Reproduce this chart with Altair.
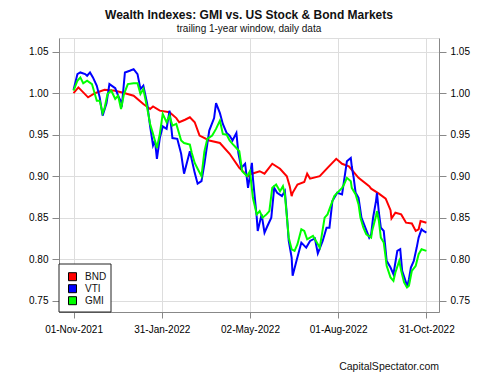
import altair as alt
import pandas as pd

series_names = ["BND", "VTI", "GMI"]
series_colors = ["#ff0000", "#0000ff", "#00ff00"]

bnd_dates = ["2021-11-01", "2021-11-06", "2021-11-16", "2021-11-23", "2021-12-03", "2021-12-14",
             "2021-12-24", "2022-01-02", "2022-01-12", "2022-01-19", "2022-01-22", "2022-01-29",
             "2022-02-08", "2022-02-15", "2022-02-18", "2022-02-24", "2022-03-01", "2022-03-06",
             "2022-03-11", "2022-03-21", "2022-04-01", "2022-04-11", "2022-04-21", "2022-04-30",
             "2022-05-04", "2022-05-12", "2022-05-17", "2022-05-25", "2022-06-02", "2022-06-09",
             "2022-06-12", "2022-06-14", "2022-06-15", "2022-06-20", "2022-06-27", "2022-06-30",
             "2022-07-03", "2022-07-13", "2022-07-21", "2022-07-30", "2022-08-05", "2022-08-12",
             "2022-08-22", "2022-09-02", "2022-09-04", "2022-09-12", "2022-09-19", "2022-09-24",
             "2022-09-25", "2022-09-29", "2022-10-05", "2022-10-10", "2022-10-16", "2022-10-20",
             "2022-10-23", "2022-10-25", "2022-10-31"]
bnd_values = [1.000, 1.007, 0.995, 1.000, 1.004, 1.003,
              1.000, 0.997, 0.987, 0.981, 0.984, 0.979,
              0.977, 0.970, 0.965, 0.968, 0.971, 0.965,
              0.949, 0.943, 0.940, 0.927, 0.910, 0.900,
              0.903, 0.906, 0.903, 0.915, 0.909, 0.900,
              0.888, 0.876, 0.880, 0.890, 0.893, 0.903,
              0.897, 0.900, 0.910, 0.921, 0.915, 0.912,
              0.898, 0.888, 0.885, 0.879, 0.873, 0.859,
              0.849, 0.856, 0.854, 0.844, 0.843, 0.834,
              0.836, 0.846, 0.844]

vti_dates = ["2021-11-01", "2021-11-05", "2021-11-08", "2021-11-13", "2021-11-15", "2021-11-18",
             "2021-11-21", "2021-11-25", "2021-11-28", "2021-12-01", "2021-12-05", "2021-12-08",
             "2021-12-14", "2021-12-17", "2021-12-21", "2021-12-24", "2021-12-29", "2022-01-02",
             "2022-01-06", "2022-01-09", "2022-01-12", "2022-01-16", "2022-01-19", "2022-01-22",
             "2022-01-24", "2022-01-26", "2022-01-29", "2022-02-01", "2022-02-05", "2022-02-08",
             "2022-02-11", "2022-02-16", "2022-02-20", "2022-02-23", "2022-03-01", "2022-03-06",
             "2022-03-09", "2022-03-13", "2022-03-16", "2022-03-21", "2022-03-26", "2022-03-28",
             "2022-04-01", "2022-04-04", "2022-04-08", "2022-04-11", "2022-04-14", "2022-04-18",
             "2022-04-20", "2022-04-23", "2022-04-27", "2022-04-30", "2022-05-04", "2022-05-05",
             "2022-05-09", "2022-05-10", "2022-05-14", "2022-05-17", "2022-05-20", "2022-05-24",
             "2022-05-27", "2022-05-30", "2022-06-04", "2022-06-07", "2022-06-09", "2022-06-11",
             "2022-06-14", "2022-06-15", "2022-06-19", "2022-06-24", "2022-06-29", "2022-07-03",
             "2022-07-08", "2022-07-11", "2022-07-16", "2022-07-20", "2022-07-23", "2022-07-26",
             "2022-07-31", "2022-08-05", "2022-08-07", "2022-08-10", "2022-08-14", "2022-08-15",
             "2022-08-17", "2022-08-19", "2022-08-22", "2022-08-25", "2022-08-29", "2022-09-02",
             "2022-09-04", "2022-09-06", "2022-09-09", "2022-09-10", "2022-09-12", "2022-09-14",
             "2022-09-17", "2022-09-19", "2022-09-20", "2022-09-24", "2022-09-27", "2022-10-01",
             "2022-10-04", "2022-10-06", "2022-10-10", "2022-10-11", "2022-10-13", "2022-10-15",
             "2022-10-18", "2022-10-21", "2022-10-23", "2022-10-26", "2022-10-28", "2022-10-31"]
vti_values = [1.004, 1.023, 1.025, 1.023, 1.021, 1.025,
              1.019, 1.009, 0.995, 0.973, 0.988, 1.011,
              1.006, 0.997, 0.987, 1.025, 1.027, 1.029,
              1.023, 1.005, 1.009, 0.987, 0.960, 0.937,
              0.943, 0.921, 0.946, 0.960, 0.957, 0.979,
              0.946, 0.945, 0.927, 0.903, 0.930, 0.904,
              0.891, 0.894, 0.915, 0.955, 0.970, 0.988,
              0.976, 0.963, 0.952, 0.949, 0.943, 0.952,
              0.928, 0.910, 0.915, 0.886, 0.916, 0.898,
              0.850, 0.834, 0.854, 0.832, 0.840, 0.850,
              0.886, 0.880, 0.876, 0.882, 0.854, 0.822,
              0.802, 0.780, 0.798, 0.820, 0.814, 0.822,
              0.825, 0.807, 0.822, 0.838, 0.838, 0.870,
              0.880, 0.878, 0.894, 0.918, 0.922, 0.912,
              0.898, 0.880, 0.874, 0.850, 0.838, 0.826,
              0.830, 0.850, 0.870, 0.880, 0.856, 0.838,
              0.834, 0.810, 0.798, 0.790, 0.782, 0.810,
              0.812, 0.786, 0.772, 0.766, 0.776, 0.790,
              0.798, 0.814, 0.826, 0.836, 0.834, 0.832]

gmi_dates = ["2021-11-01", "2021-11-05", "2021-11-08", "2021-11-11", "2021-11-15", "2021-11-20",
             "2021-11-25", "2021-11-28", "2021-12-01", "2021-12-03", "2021-12-06", "2021-12-10",
             "2021-12-14", "2021-12-17", "2021-12-20", "2021-12-23", "2021-12-27", "2022-01-02",
             "2022-01-06", "2022-01-09", "2022-01-12", "2022-01-16", "2022-01-19", "2022-01-22",
             "2022-01-26", "2022-01-29", "2022-02-01", "2022-02-05", "2022-02-08", "2022-02-11",
             "2022-02-15", "2022-02-20", "2022-02-23", "2022-03-01", "2022-03-03", "2022-03-06",
             "2022-03-09", "2022-03-13", "2022-03-16", "2022-03-19", "2022-03-24", "2022-03-28",
             "2022-04-01", "2022-04-04", "2022-04-08", "2022-04-11", "2022-04-14", "2022-04-18",
             "2022-04-21", "2022-04-24", "2022-04-29", "2022-05-02", "2022-05-05", "2022-05-09",
             "2022-05-12", "2022-05-15", "2022-05-19", "2022-05-22", "2022-05-25", "2022-05-29",
             "2022-06-02", "2022-06-05", "2022-06-07", "2022-06-09", "2022-06-11", "2022-06-14",
             "2022-06-17", "2022-06-20", "2022-06-24", "2022-06-27", "2022-06-30", "2022-07-06",
             "2022-07-10", "2022-07-13", "2022-07-18", "2022-07-21", "2022-07-28", "2022-07-31",
             "2022-08-05", "2022-08-07", "2022-08-10", "2022-08-14", "2022-08-15", "2022-08-19",
             "2022-08-22", "2022-08-24", "2022-08-27", "2022-08-30", "2022-09-04", "2022-09-05",
             "2022-09-09", "2022-09-10", "2022-09-12", "2022-09-14", "2022-09-17", "2022-09-19",
             "2022-09-20", "2022-09-24", "2022-09-27", "2022-09-29", "2022-10-03", "2022-10-05",
             "2022-10-08", "2022-10-11", "2022-10-13", "2022-10-16", "2022-10-20", "2022-10-23",
             "2022-10-26", "2022-10-31"]
gmi_values = [1.003, 1.015, 1.019, 1.012, 1.015, 1.011,
              0.991, 0.991, 0.976, 0.982, 0.999, 1.003,
              0.993, 0.997, 0.981, 0.999, 1.011, 1.012,
              1.012, 0.999, 1.005, 0.982, 0.963, 0.951,
              0.934, 0.951, 0.975, 0.965, 0.973, 0.961,
              0.963, 0.943, 0.940, 0.938, 0.928, 0.916,
              0.909, 0.900, 0.930, 0.945, 0.949, 0.957,
              0.967, 0.951, 0.950, 0.943, 0.939, 0.934,
              0.930, 0.906, 0.900, 0.906, 0.874, 0.854,
              0.858, 0.850, 0.854, 0.858, 0.886, 0.890,
              0.882, 0.888, 0.878, 0.852, 0.826, 0.812,
              0.810, 0.818, 0.836, 0.834, 0.824, 0.828,
              0.820, 0.814, 0.850, 0.854, 0.876, 0.880,
              0.886, 0.890, 0.898, 0.894, 0.886, 0.878,
              0.866, 0.850, 0.838, 0.830, 0.826, 0.834,
              0.852, 0.858, 0.846, 0.826, 0.820, 0.802,
              0.792, 0.778, 0.774, 0.784, 0.798, 0.786,
              0.772, 0.766, 0.768, 0.786, 0.792, 0.806,
              0.812, 0.810]

y_ticks = [0.75, 0.80, 0.85, 0.90, 0.95, 1.00, 1.05]
x_ticks = [(2021, 11, 1), (2022, 1, 31), (2022, 5, 2), (2022, 8, 1), (2022, 10, 31)]
title_text = "Wealth Indexes: GMI vs. US Stock & Bond Markets"
subtitle_text = "trailing 1-year window, daily data"
footer_text = "CapitalSpectator.com"

frames = []
for name, d, v in zip(series_names, [bnd_dates, vti_dates, gmi_dates], [bnd_values, vti_values, gmi_values]):
    frames.append(pd.DataFrame({"date": d, "value": v, "series": name}))
df = pd.concat(frames, ignore_index=True)
legend_df = pd.DataFrame({"series": series_names})

FONT = "Liberation Sans"
W, H = 380, 274

x_enc = alt.X(
    "date:T",
    scale=alt.Scale(type="utc",
                    domain=[alt.DateTime(year=2021, month=10, date=17, utc=True),
                            alt.DateTime(year=2022, month=11, date=13, utc=True)]),
    axis=alt.Axis(values=[alt.DateTime(year=a, month=b, date=c, utc=True) for a, b, c in x_ticks],
                  labelExpr="utcFormat(datum.value, '%d-%b-%Y')", title=None, grid=True,
                  tickSize=6, labelPadding=6),
)
y_scale = alt.Scale(domain=[0.7364, 1.0665], nice=False, zero=False)
color_scale = alt.Scale(domain=series_names, range=series_colors)


def line_layer(name, axis):
    return alt.Chart(df).transform_filter(alt.datum.series == name).mark_line(
        strokeWidth=2, clip=True
    ).encode(
        x=x_enc,
        y=alt.Y("value:Q", scale=y_scale, axis=axis),
        stroke=alt.Stroke("series:N", scale=color_scale, legend=None),
    )


left_axis = alt.Axis(values=y_ticks, format=".2f", title=None, grid=True, orient="left",
                     tickSize=7, labelPadding=4)
right_axis = alt.Axis(values=y_ticks, format=".2f", title=None, grid=False, orient="right",
                      tickSize=7, labelPadding=4)

bnd = line_layer("BND", left_axis)
vti = line_layer("VTI", None)
gmi = line_layer("GMI", right_axis)

# legend box (bottom-left corner inside the plot)
legend_box = alt.Chart(pd.DataFrame({"k": [0]})).mark_rect(
    fill="white", stroke="#222", strokeWidth=1
).encode(x=alt.value(0), x2=alt.value(52), y=alt.value(226), y2=alt.value(274))

legend_y = alt.Y("series:N", scale=alt.Scale(type="point", domain=series_names,
                                             range=[238.7, 262.7], padding=0), axis=None)
legend_symbols = alt.Chart(legend_df).mark_square(
    size=64, filled=True, stroke="black", strokeWidth=1, opacity=1
).encode(
    x=alt.value(13.5), y=legend_y,
    fill=alt.Fill("series:N", scale=color_scale, legend=None),
)
legend_labels = alt.Chart(legend_df).mark_text(
    align="left", baseline="middle", fontSize=10, font=FONT, color="#111"
).encode(x=alt.value(26), y=legend_y, text="series:N")

footer = alt.Chart(pd.DataFrame({"t": [footer_text]})).mark_text(
    align="right", baseline="middle", fontSize=10.5, font=FONT, color="#111"
).encode(text="t:N", x=alt.value(W), y=alt.value(329))

chart = alt.layer(bnd, vti, gmi, legend_box, legend_symbols, legend_labels, footer).resolve_scale(
    y="independent"
).properties(
    width=W, height=H,
    title=alt.TitleParams(title_text, subtitle=subtitle_text, anchor="middle",
                          font=FONT, fontSize=12, fontWeight="bold", color="#111",
                          subtitleFont=FONT, subtitleFontSize=10, subtitleColor="#111",
                          subtitlePadding=2, offset=3),
    autosize=alt.AutoSizeParams(type="none"),
    padding={"left": 51, "top": 30, "right": 53, "bottom": 63},
).configure_view(
    stroke="#222", strokeWidth=1
).configure_axis(
    labelFont=FONT, labelFontSize=10, labelColor="#111",
    domainColor="#222", tickColor="#222",
    gridColor="#c4c4c4", gridDash=[2, 2], gridWidth=1,
).configure(background="white")

chart.save("out.html", embed_options={"renderer": "svg", "actions": False})
